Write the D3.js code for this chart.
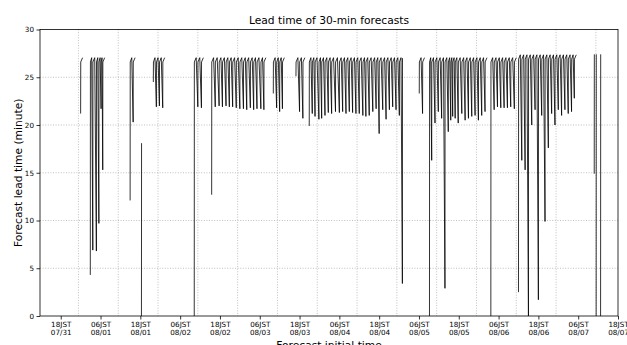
<!DOCTYPE html>
<html>
<head>
<meta charset="utf-8">
<script src="https://cdn.jsdelivr.net/npm/d3@7"></script>
<style>
  body { margin: 0; background: #fff; }
  text { font-family: "DejaVu Sans", sans-serif; }
</style>
</head>
<body>
<svg id="chart" width="627" height="345"></svg>
<script>
// each entry: [forecast initial time (JST), lowest lead time in minutes]
// a third value means the stroke stops there (cut-off forecast)
const run01 = [["08/01 00:00", 21.2]];
const run02 = [["08/01 02:55", 4.3], ["08/01 03:40", 6.9], ["08/01 04:45", 6.8], ["08/01 05:30", 9.7], ["08/01 06:10", 21.7], ["08/01 06:40", 15.3]];
const run03 = [["08/01 14:55", 12.1], ["08/01 15:50", 20.3]];
const run04 = [["08/01 18:20", 0, 18.1]];
const run05 = [["08/01 21:55", 24.5], ["08/01 22:50", 21.9], ["08/01 23:45", 22.0], ["08/02 00:45", 21.8]];
const run06 = [["08/02 10:15", 0], ["08/02 11:20", 21.9], ["08/02 12:25", 21.8]];
const run07 = [["08/02 15:30", 12.7], ["08/02 16:35", 21.9], ["08/02 17:45", 22.0], ["08/02 18:45", 21.9], ["08/02 19:50", 22.0], ["08/02 20:50", 21.9],
  ["08/02 21:50", 21.9], ["08/02 22:55", 21.8], ["08/03 00:00", 21.7], ["08/03 01:05", 21.7], ["08/03 02:05", 21.6], ["08/03 03:10", 21.8],
  ["08/03 04:10", 21.6], ["08/03 05:10", 21.7], ["08/03 06:20", 21.7], ["08/03 07:15", 21.6]];
const run08 = [["08/03 10:05", 23.3], ["08/03 11:05", 21.8], ["08/03 12:00", 21.4], ["08/03 12:50", 21.7]];
const run09 = [["08/03 16:55", 25.1], ["08/03 18:00", 21.4], ["08/03 19:00", 20.7]];
const run10 = [["08/03 20:55", 19.9], ["08/03 21:50", 21.2], ["08/03 22:40", 20.9], ["08/03 23:50", 20.6], ["08/04 00:40", 20.7], ["08/04 01:40", 21.0],
  ["08/04 02:40", 21.3], ["08/04 03:40", 21.2], ["08/04 04:50", 21.4], ["08/04 06:00", 21.3], ["08/04 07:00", 21.4], ["08/04 08:00", 21.2],
  ["08/04 09:00", 21.4], ["08/04 10:00", 21.3], ["08/04 11:00", 21.2], ["08/04 12:00", 21.2], ["08/04 13:05", 21.0], ["08/04 14:00", 20.9],
  ["08/04 15:00", 21.0], ["08/04 16:05", 21.4], ["08/04 17:05", 21.7], ["08/04 18:00", 19.1], ["08/04 19:05", 21.6], ["08/04 20:05", 20.6],
  ["08/04 21:05", 21.6], ["08/04 22:05", 21.9], ["08/04 23:05", 21.6], ["08/05 00:05", 21.0], ["08/05 01:00", 3.4, 27.0]];
const run11 = [["08/05 06:05", 23.3], ["08/05 07:05", 21.2]];
const run12 = [["08/05 09:10", 0], ["08/05 09:50", 16.3], ["08/05 10:50", 20.2], ["08/05 11:50", 21.4], ["08/05 12:50", 20.7], ["08/05 13:50", 2.9],
  ["08/05 14:50", 19.3], ["08/05 15:35", 20.5], ["08/05 16:10", 20.9], ["08/05 16:55", 20.7], ["08/05 17:50", 20.2], ["08/05 18:55", 21.2],
  ["08/05 19:55", 20.5], ["08/05 20:55", 20.7], ["08/05 21:55", 20.9], ["08/05 22:55", 21.0], ["08/05 23:55", 20.5], ["08/06 00:55", 21.0],
  ["08/06 01:55", 21.4]];
const run13 = [["08/06 03:40", 0], ["08/06 04:40", 21.6], ["08/06 05:40", 21.9], ["08/06 06:40", 21.8], ["08/06 07:40", 21.8], ["08/06 08:40", 21.8],
  ["08/06 09:40", 21.9], ["08/06 10:45", 21.7]];
const run14 = [["08/06 12:00", 2.5], ["08/06 13:00", 16.3], ["08/06 14:00", 15.3], ["08/06 15:00", 0], ["08/06 16:00", 20.0], ["08/06 17:00", 21.6],
  ["08/06 18:00", 1.7], ["08/06 19:00", 21.0], ["08/06 20:00", 9.9], ["08/06 21:00", 17.6], ["08/06 22:00", 21.2], ["08/06 23:00", 20.0],
  ["08/07 00:00", 21.6], ["08/07 01:00", 21.0], ["08/07 02:00", 21.6], ["08/07 03:00", 21.2], ["08/07 04:00", 21.4], ["08/07 04:50", 22.8]];
const run15 = [["08/07 10:50", 14.9, 27.4]];
const run16 = [["08/07 11:25", 0, 27.4]];
const run17 = [["08/07 12:45", 0, 27.4]];

const runs = [run01, run02, run03, run04, run05, run06, run07, run08, run09, run10, run11, run12, run13, run14, run15, run16, run17];
// lead time reached at the top of each saw tooth, per run
const runPeaks = [27.05, 27.05, 27.05, 27.05, 27.05, 27.05, 27.05, 27.05, 27.05, 27.05, 27.05, 27.05, 27.05, 27.35, 27.4, 27.4, 27.4];

const xTicks = ["07/31 18:00", "08/01 06:00", "08/01 18:00", "08/02 06:00", "08/02 18:00", "08/03 06:00", "08/03 18:00",
  "08/04 06:00", "08/04 18:00", "08/05 06:00", "08/05 18:00", "08/06 06:00", "08/06 18:00", "08/07 06:00", "08/07 18:00"];
const xGrid = ["07/31 23:20", "08/01 11:20", "08/01 23:20", "08/02 11:20", "08/02 23:20", "08/03 11:20", "08/03 23:20",
  "08/04 11:20", "08/04 23:20", "08/05 11:20", "08/05 23:20", "08/06 11:20", "08/06 23:20", "08/07 11:20"];
const xLimits = ["07/31 11:45", "08/07 18:00"];
const yTicks = [0, 5, 10, 15, 20, 25, 30];

const parse = d3.utcParse("%m/%d %H:%M");
const fmtHour = d3.utcFormat("%HJST");
const fmtDay = d3.utcFormat("%m/%d");

const svg = d3.select("#chart");
const margin = {top: 29.5, right: 9, bottom: 29, left: 40};
const width = +svg.attr("width") - margin.left - margin.right;
const height = +svg.attr("height") - margin.top - margin.bottom;
const g = svg.append("g").attr("transform", "translate(" + margin.left + "," + margin.top + ")");

const x = d3.scaleUtc().domain(xLimits.map(parse)).range([0, width]);
const y = d3.scaleLinear().domain([0, 30]).range([height, 0]);

// grid
g.append("g").selectAll("line")
  .data(yTicks.slice(1, -1))
  .enter().append("line")
    .attr("x1", 0).attr("x2", width)
    .attr("y1", d => y(d)).attr("y2", d => y(d))
    .attr("stroke", "#b0b0b0").attr("stroke-width", 0.8).attr("stroke-dasharray", "1,1.6");
g.append("g").selectAll("line")
  .data(xGrid.map(parse))
  .enter().append("line")
    .attr("x1", d => x(d)).attr("x2", d => x(d))
    .attr("y1", 0).attr("y2", height)
    .attr("stroke", "#b0b0b0").attr("stroke-width", 0.8).attr("stroke-dasharray", "1,1.6");

// saw-tooth: low -> jump to top -> slow rise to peak -> drop to next low
function toothPoints(run, peak) {
  const pts = [];
  run.forEach((s, i) => {
    const t = parse(s[0]);
    pts.push([t, s[1]]);
    if (s.length > 2) { pts.push([d3.utcMinute.offset(t, 2), s[2]]); return; }
    pts.push([d3.utcMinute.offset(t, 2), peak - 0.45]);
    const next = run[i + 1] ? parse(run[i + 1][0]) : null;
    const span = next ? Math.min(35, 0.55 * (next - t) / 60000) : 35;
    pts.push([d3.utcMinute.offset(t, Math.round(span)), peak]);
  });
  return pts;
}

const line = d3.line().x(d => x(d[0])).y(d => y(d[1]));

g.append("g").selectAll("path")
  .data(runs.map((r, i) => toothPoints(r, runPeaks[i])))
  .enter().append("path")
    .attr("d", line)
    .attr("fill", "none")
    .attr("stroke", "#000")
    .attr("stroke-width", 0.8);

// axes
const yAxis = g.append("g")
  .call(d3.axisLeft(y).tickValues(yTicks).tickSize(3.5).tickPadding(2.5));
yAxis.select(".domain").remove();
yAxis.selectAll("line").attr("stroke", "#000").attr("stroke-width", 0.8);
yAxis.selectAll("text").attr("font-size", 7.2).attr("fill", "#000").attr("font-family", "DejaVu Sans");

const xAxis = g.append("g")
  .attr("transform", "translate(0," + height + ")")
  .call(d3.axisBottom(x).tickValues(xTicks.map(parse)).tickSize(3.5).tickFormat(""));
xAxis.select(".domain").remove();
xAxis.selectAll("line").attr("stroke", "#000").attr("stroke-width", 0.8);
xAxis.selectAll(".tick").each(function(d) {
  const t = d3.select(this).append("text")
    .attr("text-anchor", "middle")
    .attr("font-size", 7.2)
    .attr("fill", "#000");
  t.append("tspan").attr("x", 0).attr("y", 11.2).text(fmtHour(d));
  t.append("tspan").attr("x", 0).attr("y", 18.7).text(fmtDay(d));
});

// spines
g.append("rect")
  .attr("width", width).attr("height", height)
  .attr("fill", "none").attr("stroke", "#000").attr("stroke-width", 0.8);

svg.append("text")
  .attr("x", margin.left + width / 2).attr("y", 24)
  .attr("text-anchor", "middle").attr("font-size", 10.7)
  .text("Lead time of 30-min forecasts");

svg.append("text")
  .attr("x", margin.left + width / 2).attr("y", 348.5)
  .attr("text-anchor", "middle").attr("font-size", 10.7)
  .text("Forecast initial time");

svg.append("text")
  .attr("transform", "translate(21.5," + (margin.top + height / 2) + ") rotate(-90)")
  .attr("text-anchor", "middle").attr("font-size", 10.7)
  .text("Forecast lead time (minute)");
</script>
</body>
</html>
